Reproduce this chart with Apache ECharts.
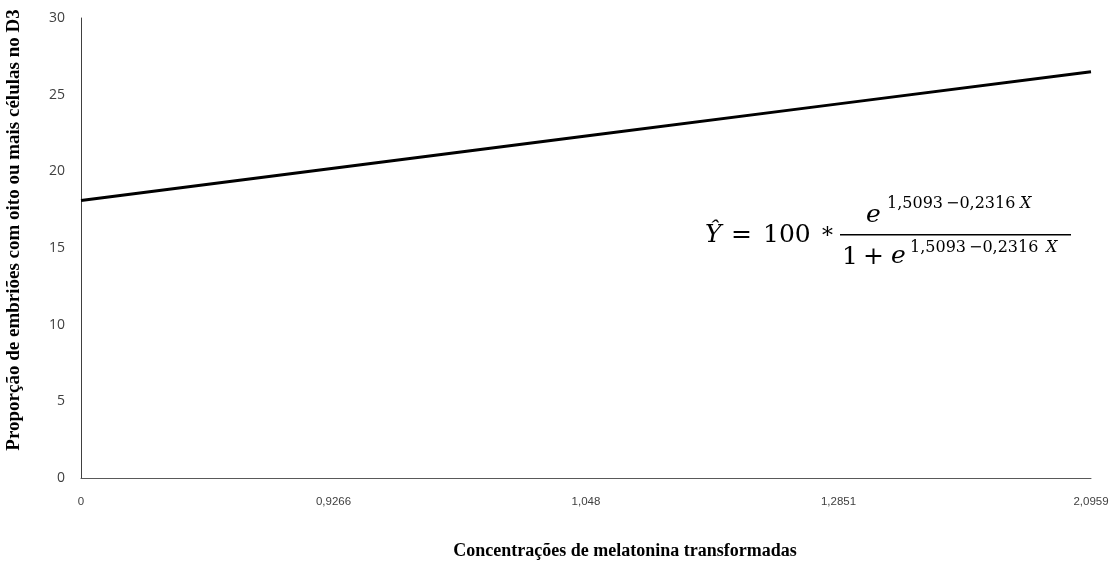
<!DOCTYPE html>
<html>
<head>
<meta charset="utf-8">
<script src="https://cdn.jsdelivr.net/npm/echarts@6/dist/echarts.min.js"></script>
<style>
  html, body { margin: 0; padding: 0; background: #fff; }
  #chart { width: 1118px; height: 565px; }
</style>
</head>
<body>
<div id="chart"></div>
<script>
// concentracoes transformadas (eixo x, categorias)
const categorias = ['0', '0,9266', '1,048', '1,2851', '2,0959'];
// proporcao estimada
const proporcao = [18.1, 20.2, 22.3, 24.4, 26.5];
const yTicks = { min: 0, max: 30, interval: 5 };

const serif = '"Liberation Serif", "DejaVu Serif", serif';
const mathFont = '"DejaVu Serif", serif';

// pequeno helper para os pedaços da equação
let eq = (x, y, text, size, italic) => ({
  type: 'text',
  x: x,
  y: y,
  style: {
    text: text,
    fontFamily: mathFont,
    fontSize: size,
    fontStyle: italic ? 'italic' : 'normal',
    fill: '#000',
    textAlign: 'left',
    textVerticalAlign: 'middle'
  }
});

let myChart = echarts.init(document.getElementById('chart'));
let option = {
  animation: false,
  grid: { left: 81, right: 27, top: 18, bottom: 87, outerBoundsMode: 'none' },
  xAxis: {
    type: 'category',
    data: categorias,
    boundaryGap: false,
    name: 'Concentrações de melatonina transformadas',
    nameLocation: 'middle',
    nameGap: 64,
    nameTextStyle: { fontFamily: serif, fontWeight: 'bold', fontSize: 18, color: '#000', padding: [0, 0, 0, 78] },
    axisLine: { lineStyle: { color: '#595959', width: 1 } },
    axisTick: { show: false },
    axisLabel: { color: '#404040', fontSize: 11.5, margin: 18, fontFamily: '"Liberation Sans", Arial' },
    splitLine: { show: false }
  },
  yAxis: {
    type: 'value',
    min: yTicks.min,
    max: yTicks.max,
    interval: yTicks.interval,
    name: 'Proporção de embriões com oito ou mais células no D3',
    nameLocation: 'middle',
    nameGap: 57,
    nameTextStyle: { fontFamily: serif, fontWeight: 'bold', fontSize: 19, color: '#000', padding: [0, 0, 0, 36] },
    axisLine: { show: true, lineStyle: { color: '#404040', width: 1 } },
    axisTick: { show: false },
    axisLabel: { color: '#404040', fontSize: 14, margin: 16, fontFamily: '"Open Sans", Lato' },
    splitLine: { show: false }
  },
  series: [{
    type: 'line',
    data: proporcao,
    symbol: 'none',
    lineStyle: { color: '#000', width: 3 }
  }],
  graphic: [
    eq(705, 235, 'Ŷ', 25, true),
    eq(731, 235, '=', 25, false),
    eq(763, 235, '100', 25, false),
    eq(820, 232, '∗', 22, false),
    // numerador
    eq(866, 215, 'e', 25, true),
    eq(887, 204, '1,5093', 16, false),
    eq(946, 204, '−0,2316', 16, false),
    eq(1020, 204, 'X', 16, true),
    { type: 'rect', shape: { x: 840, y: 234, width: 231, height: 1.6 }, style: { fill: '#000' } },
    // denominador
    eq(842, 257, '1', 25, false),
    eq(863, 257, '+', 25, false),
    eq(891, 256, 'e', 25, true),
    eq(910, 248, '1,5093', 16, false),
    eq(969, 248, '−0,2316', 16, false),
    eq(1046, 248, 'X', 16, true)
  ]
};
myChart.setOption(option);
</script>
</body>
</html>
